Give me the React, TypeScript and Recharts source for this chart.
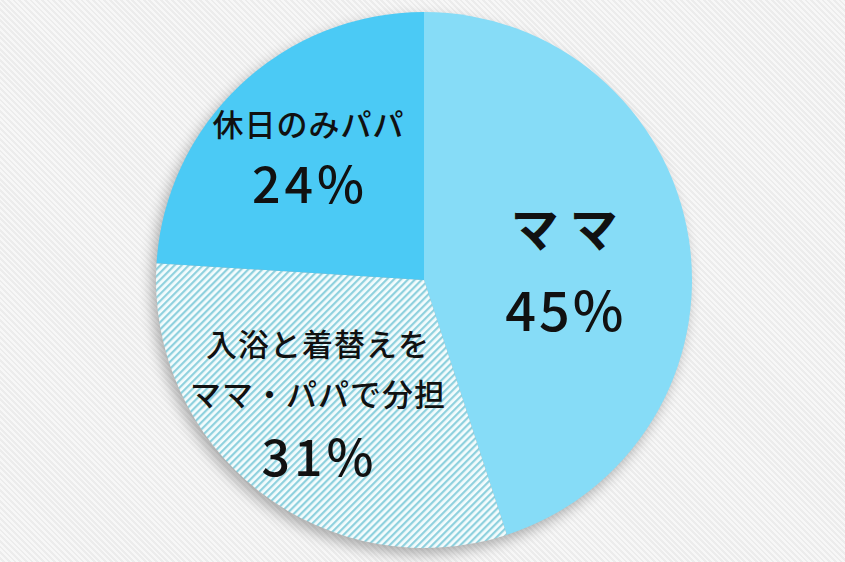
import { Cell, Pie, PieChart } from "recharts";

const names = ["ママ", "入浴と着替えを\nママ・パパで分担", "休日のみパパ"];
const values = [45, 31, 24];
const percentLabels = ["45%", "31%", "24%"];

const FILLS = ["#86dcf7", "url(#hatch)", "#4bcaf5"];
const FONT = '"Noto Sans CJK JP", "Noto Sans", sans-serif';
const RAD = Math.PI / 180;

const data = names.map((name, i) => ({ name, value: values[i], pct: percentLabels[i] }));
const shadowData = [{ name: "all", value: values.reduce((s, v) => s + v, 0) }];

// label placement per slice: radial factor, nudges, font sizes
const labelStyle = [
  { r: 0.53, dx: 0, dy: 9, nameSize: 48, nameWeight: 700, nameSpacing: 11, pctSize: 54, pctSpacing: 3, gap: 81 },
  { r: 0.6, dx: -8, dy: -9, nameSize: 31, nameWeight: 500, nameSpacing: 1, pctSize: 50, pctSpacing: 4, gap: 61 },
  { r: 0.61, dx: -4, dy: -9, nameSize: 31, nameWeight: 500, nameSpacing: 1, pctSize: 50, pctSpacing: 4, gap: 59 },
];

function renderLabel(props: any) {
  const { cx, cy, midAngle, outerRadius, index } = props;
  const st = labelStyle[index];
  const x = cx + outerRadius * st.r * Math.cos(-midAngle * RAD) + st.dx;
  const y = cy + outerRadius * st.r * Math.sin(-midAngle * RAD) + st.dy;
  const lines = data[index].name.split("\n");
  const lineH = 50;
  const total = (lines.length - 1) * lineH + st.gap;
  const top = y - total / 2;
  return (
    <g key={`lbl-${index}`}>
      {lines.map((ln, i) => (
        <text
          key={i}
          x={x + st.nameSpacing / 2}
          y={top + i * lineH}
          textAnchor="middle"
          dominantBaseline="central"
          fontFamily={FONT}
          fontSize={st.nameSize}
          fontWeight={st.nameWeight}
          letterSpacing={st.nameSpacing}
          fill="#111"
        >
          {ln}
        </text>
      ))}
      <text
        x={x + st.pctSpacing / 2}
        y={top + (lines.length - 1) * lineH + st.gap}
        textAnchor="middle"
        dominantBaseline="central"
        fontFamily={FONT}
        fontSize={st.pctSize}
        fontWeight={500}
        letterSpacing={st.pctSpacing}
        fill="#111"
      >
        {data[index].pct}
      </text>
    </g>
  );
}

export default function App() {
  return (
    <div
      style={{
        position: "absolute",
        left: 0,
        top: 0,
        width: 845,
        height: 562,
        background:
          "repeating-linear-gradient(45deg, #f7f7f7 0px, #f7f7f7 2px, #ececec 2px, #ececec 4px)",
      }}
    >
      <PieChart width={845} height={562} margin={{ top: 0, right: 0, bottom: 0, left: 0 }}>
        <defs>
          <pattern id="hatch" width="5" height="5" patternUnits="userSpaceOnUse" patternTransform="rotate(45)">
            <rect width="5" height="5" fill="#f4fcfd" />
            <rect width="2.2" height="5" fill="#8fd1de" />
          </pattern>
          <filter id="soft" x="-20%" y="-20%" width="140%" height="140%">
            <feGaussianBlur in="SourceAlpha" stdDeviation="7" />
            <feOffset dx="-4" dy="6" result="b" />
            <feComponentTransfer>
              <feFuncA type="linear" slope="0.3" />
            </feComponentTransfer>
          </filter>
        </defs>
        <Pie
          isAnimationActive={false}
          data={shadowData}
          dataKey="value"
          cx={424}
          cy={280}
          outerRadius={268}
          startAngle={90}
          endAngle={-270}
          stroke="none"
          fill="#000"
          style={{ filter: "url(#soft)" }}
        />
        <Pie
          isAnimationActive={false}
          data={data}
          dataKey="value"
          nameKey="name"
          cx={424}
          cy={280}
          outerRadius={268}
          startAngle={90}
          endAngle={-270}
          stroke="none"
          label={renderLabel}
          labelLine={false}
        >
          {data.map((d, i) => (
            <Cell key={d.name} fill={FILLS[i]} />
          ))}
        </Pie>
      </PieChart>
    </div>
  );
}
